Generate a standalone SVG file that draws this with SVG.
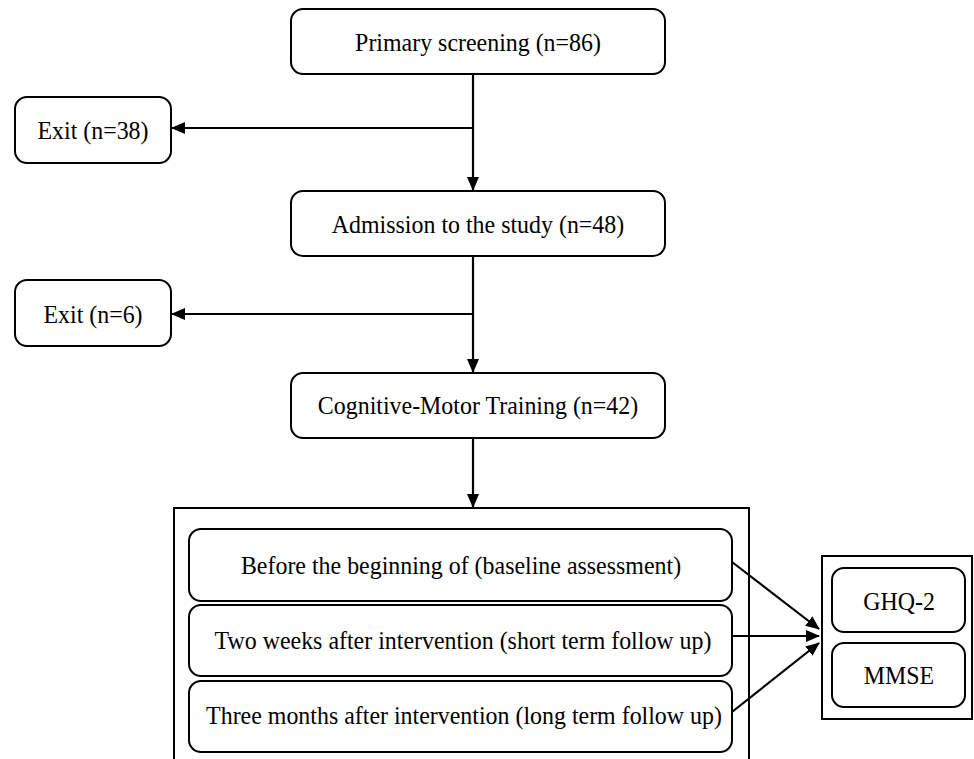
<svg xmlns="http://www.w3.org/2000/svg" width="974" height="759" viewBox="0 0 974 759">
<style>
.box{fill:#fff;stroke:#000;stroke-width:2}
.frame{fill:#fff;stroke:#000;stroke-width:2}
.lbl{font-family:"Liberation Serif","Times New Roman",serif;font-size:26px;fill:#000;text-anchor:middle}
.con{fill:none;stroke:#000;stroke-width:2.2}
</style>
<defs>
<marker id="ah" markerUnits="userSpaceOnUse" markerWidth="14" markerHeight="12" refX="13" refY="6" orient="auto">
<path d="M0,0 L14,6 L0,12 Z" fill="#000"/>
</marker>
</defs>
<rect width="974" height="759" fill="#fff"/>
<g id="frame-left"><rect class="frame" x="174" y="508" width="575" height="262"/></g>
<g id="frame-right"><rect class="frame" x="822" y="556" width="150" height="163"/></g>
<g id="primary"><rect class="box" x="291" y="9" width="374" height="65" rx="12"/><text class="lbl" transform="translate(478,51) scale(0.92,1)">Primary screening (n=86)</text></g>
<g id="exit38"><rect class="box" x="15" y="97" width="156" height="66" rx="12"/><text class="lbl" transform="translate(93,139) scale(0.92,1)">Exit (n=38)</text></g>
<g id="admission"><rect class="box" x="291" y="191" width="374" height="65" rx="12"/><text class="lbl" transform="translate(478,233) scale(0.92,1)">Admission to the study (n=48)</text></g>
<g id="exit6"><rect class="box" x="15" y="280" width="156" height="66" rx="12"/><text class="lbl" transform="translate(93,323) scale(0.92,1)">Exit (n=6)</text></g>
<g id="cognitive"><rect class="box" x="291" y="373" width="374" height="65" rx="12"/><text class="lbl" transform="translate(478,414) scale(0.92,1)">Cognitive-Motor Training (n=42)</text></g>
<g id="baseline"><rect class="box" x="189" y="529" width="543" height="72" rx="12"/><text class="lbl" transform="translate(461,574) scale(0.92,1)">Before the beginning of (baseline assessment)</text></g>
<g id="short"><rect class="box" x="189" y="605" width="543" height="71" rx="12"/><text class="lbl" transform="translate(463,649) scale(0.92,1)">Two weeks after intervention (short term follow up)</text></g>
<g id="long"><rect class="box" x="189" y="681" width="543" height="71" rx="12"/><text class="lbl" transform="translate(464,724) scale(0.92,1)">Three months after intervention (long term follow up)</text></g>
<g id="ghq"><rect class="box" x="832" y="568" width="133" height="64" rx="12"/><text class="lbl" transform="translate(899,610) scale(0.92,1)">GHQ-2</text></g>
<g id="mmse"><rect class="box" x="832" y="643" width="133" height="64" rx="12"/><text class="lbl" transform="translate(899,684) scale(0.92,1)">MMSE</text></g>
<g id="connectors">
<path class="con" d="M473,74 V190" marker-end="url(#ah)"/>
<path class="con" d="M473,128 H172" marker-end="url(#ah)"/>
<path class="con" d="M473,256 V372" marker-end="url(#ah)"/>
<path class="con" d="M473,314 H172" marker-end="url(#ah)"/>
<path class="con" d="M473,438 V507" marker-end="url(#ah)"/>
<path class="con" d="M732,562 L819,629" marker-end="url(#ah)"/>
<path class="con" d="M732,636 L819,636" marker-end="url(#ah)"/>
<path class="con" d="M732,712 L819,643" marker-end="url(#ah)"/>
</g>
</svg>
